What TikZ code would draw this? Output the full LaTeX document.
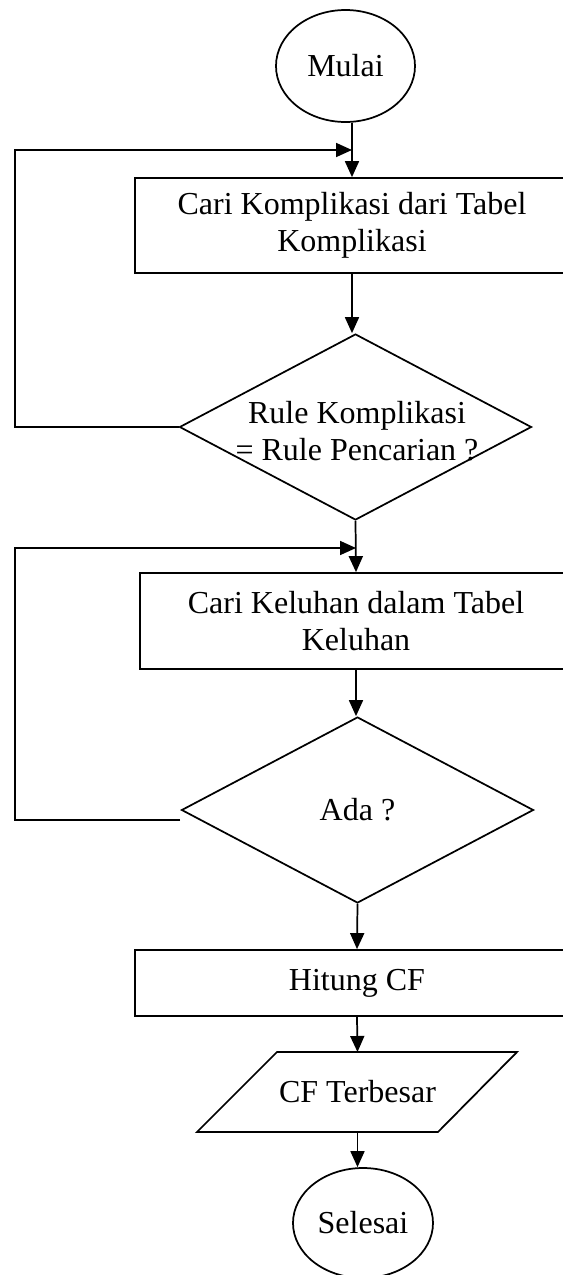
\documentclass[tikz,border=0pt]{standalone}
\usepackage{fontspec}
\setmainfont{Liberation Serif}
\usetikzlibrary{shapes.geometric,arrows.meta}

\begin{document}
\begin{tikzpicture}[x=0.75pt,y=-0.75pt,line width=1.3pt,
    every node/.style={font=\fontsize{24}{27.75}\selectfont,align=center},
    proc/.style={draw,rectangle,inner sep=0pt},
    term/.style={draw,ellipse,inner sep=0pt,minimum width=104.25pt,minimum height=84pt},
    dec/.style={draw,diamond,inner sep=0pt,minimum width=264pt,minimum height=139.5pt},
    arr/.style={-{Triangle[length=12pt,width=10.5pt]}}]

  \useasboundingbox (0,0) rectangle (563,1275);

  % blocks
  \node[term] (mulai) at (345.5,66) {Mulai};
  \node[proc,minimum width=325.5pt,minimum height=71.25pt] (cari1) at (352,225.5)
    {Cari Komplikasi dari Tabel\\Komplikasi};
  \node[dec] (rule) at (355.5,427) {};
  \node (ruletxt) at (357,431) {Rule Komplikasi\\= Rule Pencarian ?};
  \node[proc,minimum width=324pt,minimum height=72pt] (cari2) at (356,621)
    {Cari Keluhan dalam Tabel\\Keluhan};
  \node[dec] (ada) at (357.5,810) {Ada ?};
  \node[proc,minimum width=333pt,minimum height=49.5pt] (hitung) at (357,983) {Hitung CF};

  % output block
  \draw (197,1132) -- (277,1052) -- (517,1052) -- (438,1132) -- cycle;
  \node (cf) at (357.5,1092) {CF Terbesar};
  \coordinate (cftop) at (357.5,1052);
  \coordinate (cfbot) at (357.5,1132);

  \node[term,minimum width=105pt,minimum height=82.5pt] (selesai) at (363,1223) {Selesai};

  % loop points
  \coordinate (m1) at (352,150);
  \coordinate (k1) at (15,427);
  \coordinate (m2) at (356,548);
  \coordinate (k2) at (15,820);
  \coordinate (a2) at (180,820);

  % arrows
  \draw[arr] (mulai.south -| cari1.north) -- (cari1.north);
  \draw[arr] (rule.west) -- (k1) |- (m1);
  \draw[arr] (cari1.south) -- (cari1.south |- rule.north);
  \draw[arr] (rule.south) -- (cari2.north);
  \draw[arr] (a2) -- (k2) |- (m2);
  \draw[arr] (cari2.south) -- (cari2.south |- ada.north);
  \draw[arr] (ada.south) -- (hitung.north);
  \draw[arr] (hitung.south) -- (cftop);
  \draw[arr] (cfbot) -- (cfbot |- selesai.north);

\end{tikzpicture}
\end{document}
